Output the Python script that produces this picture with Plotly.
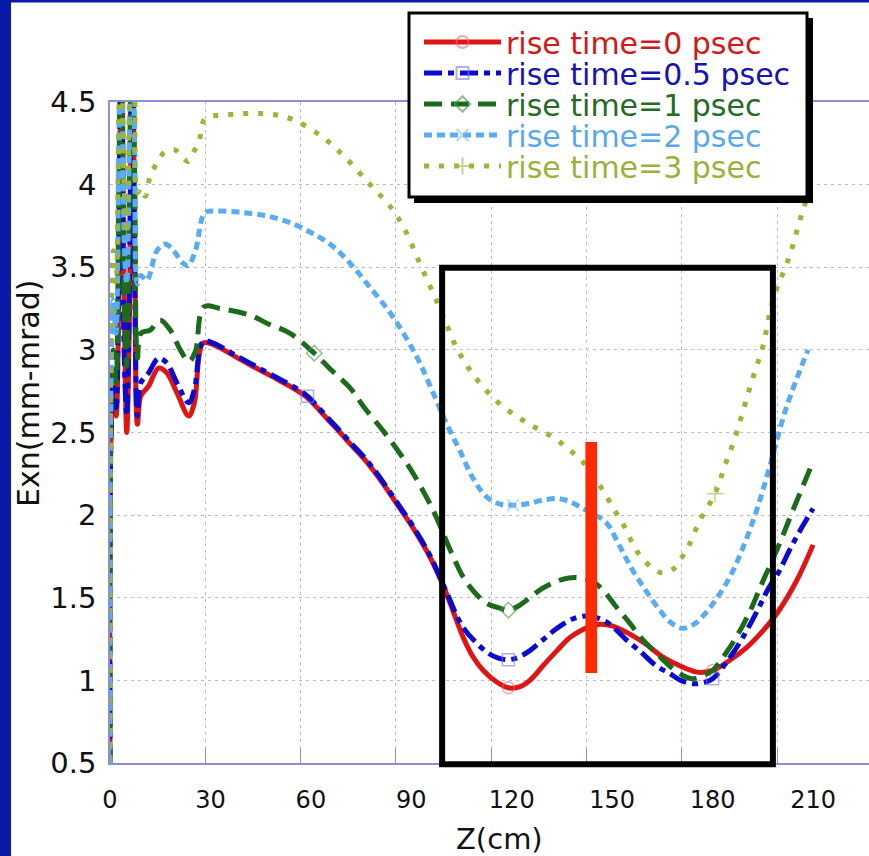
import plotly.graph_objects as go

# ---------------- data ----------------
series_names = ["rise time=0 psec", "rise time=0.5 psec", "rise time=1 psec",
                "rise time=2 psec", "rise time=3 psec"]

z_r = [0, 0.3, 1.0, 1.8, 2.6, 3.4, 4.2, 5.0, 5.8, 6.6, 7.4, 8.2, 9.2, 11.5, 14.5, 17, 20, 23.5, 25.2, 27.8,
       31, 36.8, 41.8, 46.8, 51, 55.8, 59, 61.7, 65, 68.7, 72, 75.7, 78.5, 81.6, 85.6, 90.6, 95.6, 100, 105.5,
       108.5, 111.5, 115.5, 119, 122.5, 125.4, 129.4, 133.5, 137.4, 141.4, 144, 146.4, 150, 155.3, 160, 165.2,
       170, 175.3, 180, 185, 190.2, 195, 199.2, 205, 210]
y_r = [0.5, 2.45, 2.75, 2.6, 3.3, 5.2, 3.4, 2.5, 3.2, 5.2, 3.6, 2.55, 2.72, 2.78, 2.89, 2.86, 2.74, 2.60, 2.68, 3.04,
       3.03, 2.967, 2.91, 2.856, 2.81, 2.755, 2.71, 2.654, 2.58, 2.50, 2.425, 2.345, 2.275, 2.19, 2.07, 1.92,
       1.745, 1.55, 1.26, 1.14, 1.06, 0.99, 0.955, 0.962, 1.0, 1.09, 1.18, 1.26, 1.31, 1.33, 1.34, 1.33, 1.28,
       1.22, 1.14, 1.09, 1.05, 1.06, 1.12, 1.20, 1.30, 1.405, 1.60, 1.82]

z_b = [0, 0.3, 1.0, 1.8, 2.6, 3.4, 4.2, 5.0, 5.8, 6.6, 7.4, 8.2, 9.2, 11.5, 14.5, 17, 20, 23.5, 25.2, 27.8,
       31, 36.8, 41.8, 46.8, 51, 55.8, 59, 61.7, 65, 68.7, 72, 75.7, 78.5, 81.6, 85.6, 90.6, 95.6, 100.6, 105.5,
       112.6, 116, 119, 122, 125.4, 129, 133.5, 138, 142.5, 146, 149.3, 154, 159.2, 163, 167.3, 170.5, 174.1,
       177, 180, 185.2, 189, 193.3, 196.5, 200, 203, 206.5, 210]
y_b = [0.5, 2.5, 2.8, 2.65, 3.6, 5.2, 3.0, 2.6, 3.4, 5.2, 3.4, 2.6, 2.8, 2.86, 2.95, 2.92, 2.80, 2.68, 2.76, 3.05,
       3.04, 2.975, 2.92, 2.865, 2.82, 2.765, 2.72, 2.664, 2.59, 2.51, 2.435, 2.355, 2.285, 2.20, 2.08, 1.93,
       1.755, 1.53, 1.32, 1.17, 1.135, 1.125, 1.14, 1.18, 1.24, 1.315, 1.37, 1.39, 1.375, 1.34, 1.25, 1.16, 1.09,
       1.04, 1.0, 0.98, 0.985, 1.01, 1.14, 1.26, 1.42, 1.55, 1.665, 1.79, 1.92, 2.04]

z_g = [0, 0.3, 1.0, 1.8, 2.6, 3.4, 4.2, 5.0, 5.8, 6.6, 7.4, 8.2, 9.2, 12, 15, 18, 21, 23.5, 25.5, 28, 33, 41.8,
       47, 53.8, 61, 66, 71.7, 76, 81.6, 86, 90.6, 96.5, 101.6, 105.5, 109, 112.6, 116, 119, 122, 125.4, 129,
       133.5, 137, 140.4, 144, 147.3, 151, 155.3, 159, 163.4, 167, 171.1, 174, 177.1, 180, 183.1, 187, 191.2,
       195, 199.2, 204, 209.5]
y_g = [0.5, 2.6, 3.0, 2.8, 3.9, 5.2, 3.3, 2.9, 4.0, 5.2, 4.0, 2.95, 3.1, 3.12, 3.18, 3.12, 3.0, 2.93, 2.99, 3.26,
       3.25, 3.21, 3.16, 3.10, 2.98, 2.88, 2.77, 2.65, 2.51, 2.39, 2.25, 2.03, 1.79, 1.625, 1.53, 1.465, 1.44,
       1.425, 1.45, 1.50, 1.555, 1.60, 1.62, 1.62, 1.60, 1.545, 1.45, 1.345, 1.25, 1.16, 1.09, 1.03, 1.01, 1.03,
       1.06, 1.14, 1.26, 1.42, 1.60, 1.79, 2.03, 2.30]

z_c = [0, 0.3, 1.0, 1.8, 2.6, 3.4, 4.2, 5.0, 5.8, 6.6, 7.4, 8.2, 9.2, 11, 14, 16.5, 19, 21.5, 23.3, 25.5, 28.4,
       32, 40, 47, 53.8, 60, 65.7, 71, 76.8, 84.5, 91.7, 96.5, 100.6, 104.5, 108.5, 112.5, 116, 120.4, 125,
       129, 133.5, 137, 141.3, 145, 148.4, 152.3, 156, 160, 164, 167.5, 171, 174.5, 178, 181, 185, 188.8,
       193, 197, 202, 208.5]
y_c = [0.5, 2.8, 3.3, 3.1, 4.2, 5.2, 3.7, 3.4, 4.3, 5.2, 4.2, 3.4, 3.45, 3.42, 3.6, 3.64, 3.6, 3.53, 3.51, 3.6,
       3.83, 3.84, 3.83, 3.81, 3.77, 3.71, 3.64, 3.54, 3.40, 3.20, 2.955, 2.74, 2.55, 2.39, 2.22, 2.11, 2.07,
       2.06, 2.07, 2.09, 2.10, 2.085, 2.04, 2.0, 1.95, 1.81, 1.67, 1.545, 1.43, 1.35, 1.315, 1.34, 1.41, 1.49,
       1.62, 1.79, 2.02, 2.29, 2.65, 3.0]

z_y = [0, 0.3, 1.0, 1.8, 2.6, 3.4, 4.2, 5.0, 5.8, 6.6, 7.4, 8.2, 9.2, 10.5, 12, 14, 16.5, 19.4, 21.5, 23.3, 25,
       26.5, 28.4, 33.8, 40, 45, 50, 55, 62.7, 70, 77.7, 84, 88, 92.6, 96.6, 100, 103.6, 108.5, 116, 122.5, 127,
       132.4, 137, 141.3, 145, 148.4, 151, 153.8, 156.3, 158.5, 162, 165, 168, 171, 173, 176, 180.7, 183.5,
       186.7, 189.5, 192, 195, 198, 203, 206.9, 210]
y_y = [0.5, 3.0, 3.6, 3.4, 4.4, 5.2, 4.0, 3.7, 4.5, 5.2, 4.6, 3.95, 3.98, 3.93, 4.05, 4.13, 4.2, 4.21, 4.17, 4.14,
       4.2, 4.25, 4.40, 4.42, 4.43, 4.43, 4.42, 4.39, 4.30, 4.17, 4.0, 3.86, 3.73, 3.52, 3.34, 3.18, 3.01, 2.85,
       2.68, 2.585, 2.53, 2.47, 2.40, 2.32, 2.22, 2.11, 2.02, 1.925, 1.82, 1.75, 1.68, 1.65, 1.67, 1.75, 1.82,
       1.96, 2.13, 2.29, 2.47, 2.66, 2.83, 3.02, 3.30, 3.57, 3.84, 4.02]

# z positions carrying a (sparse) marker symbol
marks_r = [119, 180]
marks_b = [59, 119, 180]
marks_g = [61, 119]
marks_c = [120.4]
marks_y = [180.7]

x_ticks = [0, 30, 60, 90, 120, 150, 180, 210]
y_ticks = [0.5, 1, 1.5, 2, 2.5, 3, 3.5, 4, 4.5]
x_grid_step = 28.47          # vertical grid lines of the original sit slightly off the labels

# highlight box and red marker bar (data coords)
box_x = [99.2, 198.0]
box_y = [0.492, 3.497]
bar_x = [142.0, 145.5]
bar_y = [1.045, 2.443]

# ---------------- styling ----------------
FONT = "DejaVu Sans"
W, H = 869, 856
ML, MR, MT, MB = 110, 0, 102, 93
PW, PH = W - ML - MR, H - MT - MB
X_RANGE = [0, PW / 3.348]
Y_RANGE = [0.5, 4.5]

def px_x(px):
    return (px - ML) / PW

def px_y(py):
    return (H - MB - py) / PH

line_colors = ["#e01414", "#0a0ad0", "#1b6b1b", "#5aacf2", "#9db43a"]
text_colors = ["#d41818", "#1414b4", "#266a26", "#5aa8ec", "#9ab23c"]
mark_colors = ["rgba(220,110,110,0.85)", "rgba(120,120,220,0.85)", "rgba(80,150,80,0.9)",
               "rgba(130,190,245,0.9)", "rgba(160,185,80,0.9)"]
dashes = ["solid", "18px,6px,6px,6px", "18px,9px", "8px,5px", "5px,10px"]
symbols = ["circle-open", "square-open", "diamond-open", "x-thin-open", "cross-thin-open"]
legend_rows_px = [42, 73, 104, 135, 166]

zs = [z_r, z_b, z_g, z_c, z_y]
ys = [y_r, y_b, y_g, y_c, y_y]
marks = [marks_r, marks_b, marks_g, marks_c, marks_y]

fig = go.Figure()
for i in range(5):
    sizes = [12 if z in marks[i] else 0 for z in zs[i]]
    fig.add_trace(go.Scatter(
        x=zs[i], y=ys[i], mode="lines+markers",
        name=f'<span style="color:{text_colors[i]}">{series_names[i]}</span>',
        line=dict(color=line_colors[i], width=5, dash=dashes[i], shape="spline", smoothing=1.0),
        marker=dict(symbol=symbols[i], size=sizes, color=mark_colors[i], line=dict(width=1.5, color=mark_colors[i])),
        legend="legend" if i == 0 else f"legend{i+1}",
        cliponaxis=True,
    ))

axis_col = "#8e8ed8"
grid_col = "#b8b8d4"

fig.update_layout(
    width=W, height=H,
    margin=dict(l=ML, r=MR, t=MT, b=MB, pad=0),
    paper_bgcolor="white", plot_bgcolor="white",
    font=dict(family=FONT, color="black"),
    xaxis=dict(range=X_RANGE, tickvals=x_ticks, showgrid=False, zeroline=False,
               showline=True, linecolor=axis_col, linewidth=1.5, mirror=True,
               ticks="", tickfont=dict(size=24, family=FONT, color="#111"), ticklabelstandoff=14,
               minor=dict(tick0=0, dtick=x_grid_step, showgrid=True, gridcolor=grid_col,
                          griddash="3px,4px", gridwidth=1, ticks="inside", ticklen=14,
                          tickcolor=axis_col, tickwidth=1)),
    yaxis=dict(range=Y_RANGE, tickvals=y_ticks, showgrid=True, gridcolor=grid_col,
               griddash="3px,4px", gridwidth=1, zeroline=False,
               showline=True, linecolor=axis_col, linewidth=1.5, mirror=False,
               ticks="", tickfont=dict(size=29, family=FONT, color="#111"), ticklabelstandoff=6),
    showlegend=True,
)

# one legend per row so rows can sit as tightly as in the original
for i in range(5):
    key = "legend" if i == 0 else f"legend{i+1}"
    fig.update_layout({key: dict(
        x=px_x(419), xanchor="left", y=px_y(legend_rows_px[i]), yanchor="middle",
        bgcolor="rgba(0,0,0,0)", borderwidth=0, itemwidth=77, itemsizing="constant",
        font=dict(family=FONT, size=30), tracegroupgap=0,
    )})

shapes = []
# blue slide border (left and top)
shapes.append(dict(type="rect", xref="paper", yref="paper", x0=px_x(0), x1=px_x(11), y0=px_y(H), y1=px_y(0),
                   fillcolor="#0a1aa8", line=dict(width=0), layer="above"))
shapes.append(dict(type="rect", xref="paper", yref="paper", x0=px_x(0), x1=px_x(W), y0=px_y(2.5), y1=px_y(0),
                   fillcolor="#0a1aa8", line=dict(width=0), layer="above"))
# highlight box
y0p = (box_y[0] - Y_RANGE[0]) / (Y_RANGE[1] - Y_RANGE[0])
y1p = (box_y[1] - Y_RANGE[0]) / (Y_RANGE[1] - Y_RANGE[0])
shapes.append(dict(type="rect", xref="x", yref="paper", x0=box_x[0], x1=box_x[1], y0=y0p, y1=y1p,
                   line=dict(color="black", width=6), fillcolor="rgba(0,0,0,0)", layer="above"))
# red bar
shapes.append(dict(type="rect", xref="x", yref="y", x0=bar_x[0], x1=bar_x[1], y0=bar_y[0], y1=bar_y[1],
                   fillcolor="#ff2a00", line=dict(width=0), layer="above"))
# legend frame with drop shadow
shapes.append(dict(type="rect", xref="paper", yref="paper", x0=px_x(414), x1=px_x(813), y0=px_y(203), y1=px_y(18),
                   fillcolor="black", line=dict(width=0), layer="above"))
shapes.append(dict(type="rect", xref="paper", yref="paper", x0=px_x(409), x1=px_x(807), y0=px_y(197), y1=px_y(13),
                   fillcolor="white", line=dict(color="black", width=3), layer="above"))
fig.update_layout(shapes=shapes)

fig.add_annotation(text="Exn(mm-mrad)", xref="paper", yref="paper", x=px_x(28), y=px_y(394),
                   showarrow=False, textangle=-90, font=dict(family=FONT, size=30, color="#111"),
                   xanchor="center", yanchor="middle")
fig.add_annotation(text="Z(cm)", xref="paper", yref="paper", x=px_x(499), y=px_y(839),
                   showarrow=False, font=dict(family=FONT, size=29, color="#111"),
                   xanchor="center", yanchor="middle")

fig.write_html("out.html", config={"displayModeBar": False},
               post_script="document.body.style.margin='0';document.body.style.overflow='hidden';")
